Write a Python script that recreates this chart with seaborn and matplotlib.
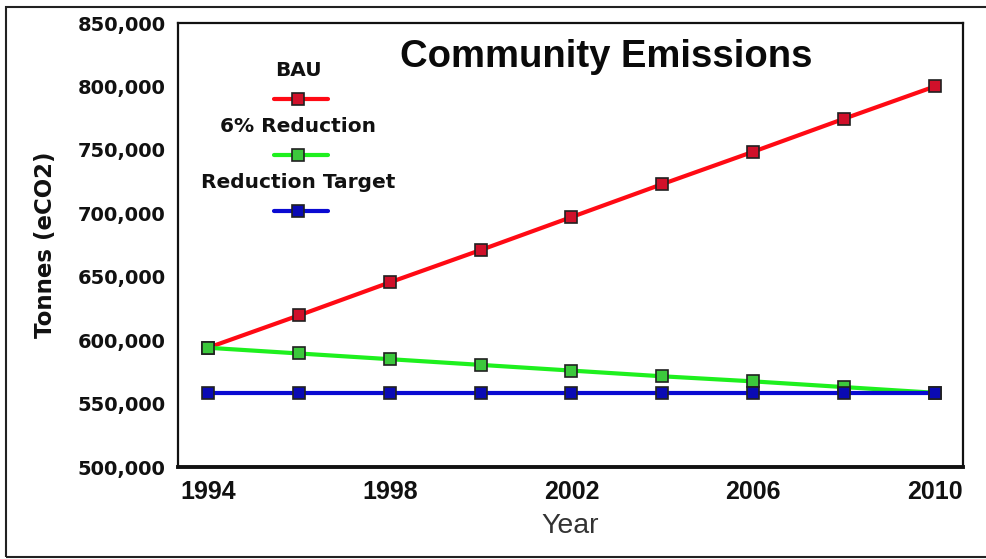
import matplotlib
matplotlib.use("Agg")
import matplotlib.pyplot as plt
from matplotlib.lines import Line2D
from matplotlib.patches import Rectangle
import seaborn as sns
import pandas as pd

years = [1994, 1996, 1998, 2000, 2002, 2004, 2006, 2008, 2010]
bau = [594000, 619500, 645500, 671000, 697000, 723000, 748500, 774500, 800000]
reduction_6pct = [594000, 589500, 585000, 580500, 576000, 571500, 567500, 563000, 558500]
reduction_target = [558500] * 9

series_names = ["BAU", "6% Reduction", "Reduction Target"]
line_colors = ["#ff0a14", "#1ef01e", "#0a0ad2"]
marker_fills = ["#d0102a", "#3cc83c", "#0a0ab4"]

x_ticks = [1994, 1998, 2002, 2006, 2010]
y_ticks = [500000, 550000, 600000, 650000, 700000, 750000, 800000, 850000]

df = pd.concat(
    [pd.DataFrame({"Year": years, "Tonnes": vals, "Series": name})
     for name, vals in zip(series_names, [bau, reduction_6pct, reduction_target])],
    ignore_index=True,
)

sns.set_theme(style="white")
plt.rcParams["font.family"] = ["DejaVu Sans"]
ARIAL = ["Liberation Sans", "DejaVu Sans"]

fig = plt.figure(figsize=(9.87, 5.59), dpi=100)
fig.patch.set_facecolor("white")
ax = fig.add_axes([178 / 987, 1 - 467 / 559, (963 - 178) / 987, (467 - 23) / 559])

sns.lineplot(
    data=df, x="Year", y="Tonnes", hue="Series", hue_order=series_names,
    palette=line_colors, linewidth=3, marker="s", markersize=8,
    markeredgecolor="#202020", markeredgewidth=1.2, legend=False, ax=ax,
)
for line, fc in zip(ax.get_lines(), marker_fills):
    line.set_markerfacecolor(fc)

ax.set_xlim(1993.34, 2010.62)
ax.set_ylim(500000, 850000)
ax.set_xticks(x_ticks)
ax.set_xticklabels([str(v) for v in x_ticks], fontfamily=ARIAL, fontweight="bold",
                   fontsize=18, color="#111111")
ax.set_yticks(y_ticks)
ax.set_yticklabels([f"{v:,}" for v in y_ticks], fontweight="bold", fontsize=14,
                   color="#111111")
ax.tick_params(axis="both", length=0)
ax.tick_params(axis="y", pad=9)
ax.tick_params(axis="x", pad=9.5)
ax.grid(False)

for side, sp in ax.spines.items():
    sp.set_color("#111111")
    sp.set_linewidth(1.6)
ax.spines["bottom"].set_linewidth(2.8)

ax.set_xlabel("Year", fontfamily=ARIAL, fontsize=20.5, color="#333333", labelpad=6)
ax.set_ylabel("Tonnes (eCO2)", fontweight="bold", fontsize=16.5, color="#111111",
              labelpad=15)

ax.text(0.545, 0.923, "Community Emissions", transform=ax.transAxes,
        ha="center", va="center", fontfamily=ARIAL,
        fontweight="bold", fontsize=27.5, color="#0a0a0a")

# stacked key: label above its sample line
key_x = 0.153
key_top = 0.894
key_step = 0.1265
for i, (name, lc, fc) in enumerate(zip(series_names, line_colors, marker_fills)):
    ty = key_top - i * key_step
    ax.text(key_x, ty, name, transform=ax.transAxes, ha="center", va="center",
            fontweight="bold", fontsize=14.5, color="#111111")
    hy = ty - 0.065
    ax.add_line(Line2D([0.122, 0.191], [hy, hy], transform=ax.transAxes,
                       color=lc, linewidth=3, clip_on=False))
    ax.add_line(Line2D([key_x], [hy], transform=ax.transAxes, marker="s",
                       markersize=8, markerfacecolor=fc, markeredgecolor="#202020",
                       markeredgewidth=1.2, linestyle="none", clip_on=False))

# outer frame around the whole chart
fig.patches.append(Rectangle((6 / 987, 2 / 559), 990 / 987, 550 / 559,
                             transform=fig.transFigure, fill=False,
                             edgecolor="#222222", linewidth=1.5))

fig.savefig("out.png", dpi=100)
